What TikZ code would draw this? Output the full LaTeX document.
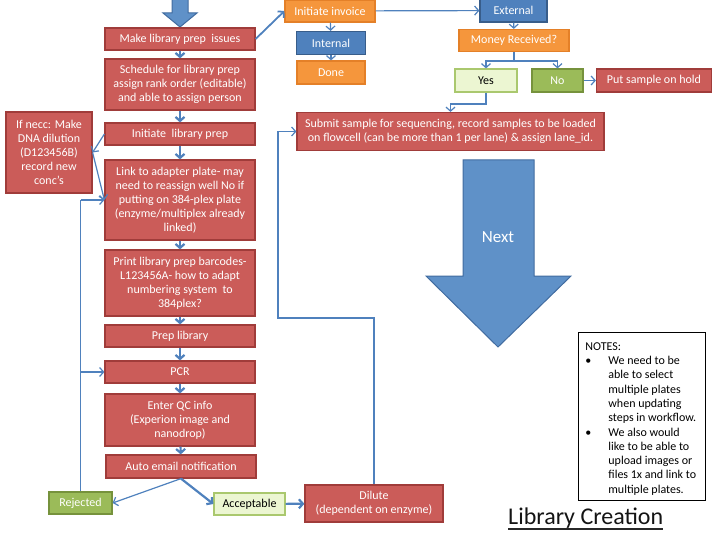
\documentclass[tikz,border=0pt]{standalone}
\usepackage{fontspec}
\setmainfont{Carlito}
\usetikzlibrary{arrows.meta}

\begin{document}
\begin{tikzpicture}[x=1pt,y=1pt,yscale=-1,
  box/.style={line width=1.2pt,align=center,inner sep=1pt,font=\fontsize{12}{14}\selectfont,text=white},
  redbox/.style={box,draw={rgb,255:red,160;green,60;blue,58},fill={rgb,255:red,203;green,92;blue,89}},
  bluebox/.style={box,draw={rgb,255:red,56;green,93;blue,138},fill={rgb,255:red,79;green,129;blue,189}},
  orangebox/.style={box,draw={rgb,255:red,228;green,128;blue,40},fill={rgb,255:red,245;green,150;blue,60}},
  greenbox/.style={box,draw={rgb,255:red,118;green,146;blue,60},fill={rgb,255:red,155;green,187;blue,89}},
  palebox/.style={box,text=black,draw={rgb,255:red,170;green,200;blue,110},fill={rgb,255:red,236;green,246;blue,210}},
  link/.style={draw={rgb,255:red,79;green,129;blue,189},line width=1.2pt,-{Straight Barb[length=4pt,width=9pt]}},
  boldlink/.style={link,line width=2.2pt},
  bigarrow/.style={draw={rgb,255:red,65;green,108;blue,160},fill={rgb,255:red,95;green,145;blue,200},line width=1pt}
]
\useasboundingbox (0,0) rectangle (720,540);

%Shape: Block arrow at top
\filldraw [bigarrow] (172,-2) -- (188,-2) -- (188,13) -- (197,13) -- (180,27) -- (163,13) -- (172,13) -- cycle;

% Main column
\node [redbox,minimum width=150,minimum height=22] (issues) at (180,39) {Make library prep\ \ issues};
\node [redbox,minimum width=150,minimum height=51] (schedule) at (180,84.5) {Schedule for library prep\\assign rank order (editable)\\and able to assign person};
\node [redbox,minimum width=150,minimum height=22] (initiate) at (180,134) {Initiate\ \ library prep};
\node [redbox,minimum width=150,minimum height=80] (adapter) at (180,200) {Link to adapter plate- may\\need to reassign well No if\\putting on 384-plex plate\\(enzyme/multiplex already\\linked)};
\node [redbox,minimum width=150,minimum height=66] (barcodes) at (180,283) {Print library prep barcodes-\\L123456A- how to adapt\\numbering system\ \ to\\384plex?};
\node [redbox,minimum width=150,minimum height=22] (prep) at (180,336) {Prep library};
\node [redbox,minimum width=150,minimum height=22] (pcr) at (180,372) {PCR};
\node [redbox,minimum width=150,minimum height=52] (qc) at (180,420) {Enter QC info\\(Experion image and\\nanodrop)};
\node [redbox,minimum width=150,minimum height=23] (email) at (181,466.5) {Auto email notification};
\node [greenbox,minimum width=63,minimum height=22] (rejected) at (80.5,503) {Rejected};
\node [palebox,minimum width=71,minimum height=22] (acceptable) at (249.5,504) {Acceptable};
\node [redbox,minimum width=138,minimum height=37] (dilute) at (374,503.5) {Dilute\\(dependent on enzyme)};
\node [redbox,minimum width=86,minimum height=81] (dilution) at (49,152.5) {If necc: Make\\DNA dilution\\(D123456B)\\record new\\conc’s};

% Invoice branch
\node [orangebox,minimum width=90,minimum height=22] (invoice) at (330,11) {Initiate invoice};
\node [bluebox,minimum width=69,minimum height=23] (internal) at (331,43) {Internal};
\node [orangebox,minimum width=68,minimum height=23] (done) at (331,72.5) {Done};
\node [bluebox,minimum width=67,minimum height=23] (external) at (513.5,10.5) {External};
\node [orangebox,minimum width=110,minimum height=22] (money) at (514,40.5) {Money Received?};
\node [palebox,minimum width=62,minimum height=23] (yes) at (486,80.5) {Yes};
\node [greenbox,minimum width=51,minimum height=23] (no) at (557.5,80.5) {No};
\node [redbox,minimum width=115,minimum height=23] (hold) at (654,80.5) {Put sample on hold};
\node [redbox,minimum width=307,minimum height=38] (submit) at (450.5,131.5) {Submit sample for sequencing, record samples to be loaded\\on flowcell (can be more than 1 per lane) \& assign lane\_id.};

%Shape: Next arrow
\filldraw [bigarrow] (463,160) -- (534,160) -- (534,276) -- (571,276) -- (498,347) -- (426,276) -- (463,276) -- cycle;
\node [font=\fontsize{17}{20}\selectfont,text=white] (next) at (498,237) {Next};

% Notes
\node [draw,line width=0.8pt,anchor=north west,inner sep=0pt,minimum width=127,minimum height=168,font=\fontsize{12}{14.3}\selectfont,align=left] (notes) at (578,332) {%
\begin{tabular}{@{\hspace{7pt}}p{11pt}@{\hspace{12pt}}p{97pt}@{}}
\multicolumn{2}{@{\hspace{7pt}}l}{\rule{0pt}{15pt}NOTES:}\\
• & We need to be\\
  & able to select\\
  & multiple plates\\
  & when updating\\
  & steps in workflow.\\
• & We also would\\
  & like to be able to\\
  & upload images or\\
  & files 1x and link to\\
  & multiple plates.
\end{tabular}};

% Text Node
\node [anchor=base west,inner sep=0pt,outer ysep=1pt,font=\fontsize{24}{28}\selectfont,text={rgb,255:red,20;green,20;blue,20}] (title) at (508,524) {Library Creation};
\draw [line width=2pt,color={rgb,255:red,40;green,40;blue,40}] (title.south west) -- (title.south east);

%Straight Lines
\draw [boldlink] (issues) -- (schedule);
\draw [boldlink] (schedule) -- (initiate);
\draw [boldlink] (initiate) -- (adapter);
\draw [boldlink] (adapter) -- (barcodes);
\draw [boldlink] (barcodes) -- (prep);
\draw [boldlink] (prep) -- (pcr);
\draw [boldlink] (pcr) -- (qc);
\draw [boldlink] (qc) -- (email);
\draw [link] (initiate.west) -- (dilution.east);
\draw [link] (dilution.east) -- (adapter.west);
\draw [link] (email.south) -- (rejected.east);
\draw [boldlink] (email.south) -- (acceptable.west);
\draw [boldlink] (acceptable) -- (dilute);
\draw [link,-] (rejected.north) -- (rejected.north |- adapter.west);
\draw [link] (rejected.north |- adapter.west) -- (adapter.west);
\draw [link] (rejected.north |- pcr.west) -- (pcr.west);
\coordinate (bend) at (278,318);
\draw [link] (dilute.north) |- (bend) -- (bend |- submit.west) -- (submit.west);

%Straight Lines
\draw [boldlink,line width=1.8pt] (issues.east) -- (invoice.west);
\draw [link] (invoice) -- (external);
\draw [link] (invoice) -- (internal);
\draw [link] (internal) -- (done);
\draw [link] (external) -- (money);
\coordinate (split) at (money.south |- 0,61);
\draw [link,-] (money.south) -- (split);
\draw [link] (split) -| (yes.north);
\draw [link] (split) -| (no.north);
\draw [link] (no) -- (hold);
\coordinate (drop) at (486,104);
\draw [link] (yes.south) -- (drop) -| (submit.north);

\end{tikzpicture}
\end{document}
